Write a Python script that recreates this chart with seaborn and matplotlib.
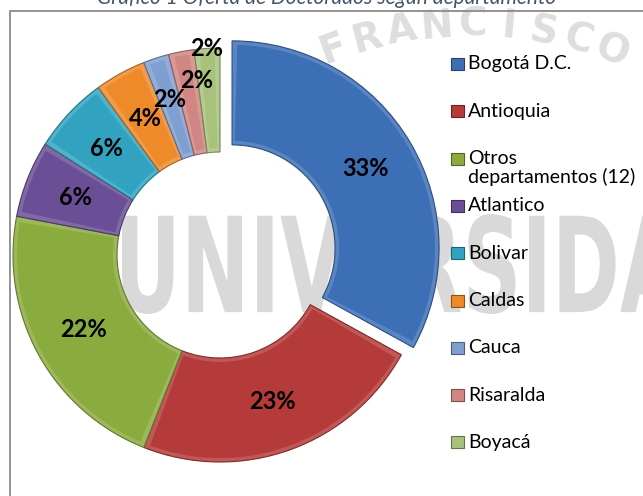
import matplotlib
matplotlib.use("Agg")
import matplotlib.pyplot as plt
import matplotlib.colors as mcolors
from matplotlib.patches import Wedge, Rectangle, PathPatch
from matplotlib.textpath import TextPath
from matplotlib.font_manager import FontProperties
from matplotlib.transforms import Affine2D
import numpy as np
import seaborn as sns

# Datos del gráfico (porcentaje de doctorados por departamento)
DEPARTAMENTOS = ["Bogotá D.C.", "Antioquia", "Otros\ndepartamentos (12)", "Atlantico",
                 "Bolivar", "Caldas", "Cauca", "Risaralda", "Boyacá"]
PORCENTAJES = [33, 23, 22, 6, 6, 4, 2, 2, 2]
COLORES = ["#3d6fb6", "#b43b39", "#8aac3e", "#6b4f96", "#31a3c1",
           "#ee8a2a", "#7f9fd1", "#d18684", "#a8c27c"]
TITULO = "Gráfico 1 Oferta de Doctorados según departamento"
MARCA_AGUA = "UNIVERSIDAD"
SELLO = "FRANCISCO"

# layout (pixel space, y up)
W, H = 643, 496
CENTRO = (220, H - 255)
RADIO = 207
ANCHO_ANILLO = 104
SEPARACION = [14, 0, 0, 0, 0, 0, 0, 0, 0]
DIST_ETIQUETA = [0.75, 0.75, 0.75, 0.75, 0.75, 0.75, 0.79, 0.85, 1.0]
GIRO_ETIQUETA = [0, 0, 0, 0, 0, 0, 0, -3.3, 0]

sns.set_theme(style="white")
plt.rcParams["font.family"] = ["Lato", "DejaVu Sans"]

palette = sns.color_palette(COLORES)


def shade(color, amount):
    """amount > 0 mezcla con blanco, < 0 con negro"""
    c = np.array(mcolors.to_rgb(color))
    if amount > 0:
        return tuple(c + (1 - c) * amount)
    return tuple(c * (1 + amount))


fig = plt.figure(figsize=(W / 100, H / 100), dpi=100)
fig.patch.set_facecolor("white")
ax = fig.add_axes([0, 0, 1, 1])

# marca de agua de fondo
fp = FontProperties(family="DejaVu Sans", weight="bold")
tp = TextPath((0, 0), MARCA_AGUA, size=100, prop=fp)
bb = tp.get_extents()
tr = Affine2D().translate(-bb.x0, -bb.y0).scale(625 / bb.width, 100 / bb.height).translate(122, H - 314)
ax.add_patch(PathPatch(tr.transform_path(tp), facecolor="#d9d9d9", edgecolor="none", zorder=0))

sc, sr = (470, H - 425), 400
for k, letra in enumerate(SELLO):
    ang = np.deg2rad(-20 + k * 5.1)
    x = sc[0] + sr * np.sin(ang)
    y = sc[1] + sr * np.cos(ang)
    ax.text(x, y, letra, fontsize=28, fontweight="bold", color="#dedede",
            rotation=-np.rad2deg(ang), ha="center", va="center",
            family="DejaVu Sans", zorder=0)

# borde del área del gráfico
ax.add_patch(Rectangle((10, -20), 700, H - 11 + 20, facecolor="none",
                       edgecolor="#8a8a8a", lw=1.3, zorder=1))

wedges, _, autotexts = ax.pie(
    PORCENTAJES, colors=[shade(c, 0.15) for c in palette], startangle=90,
    counterclock=False, radius=RADIO, center=CENTRO, explode=SEPARACION,
    autopct="%d%%", pctdistance=0.75,
    wedgeprops=dict(width=ANCHO_ANILLO, edgecolor=None, linewidth=0),
    textprops=dict(fontsize=17, fontweight="bold", color="black"),
)

# efecto bisel: cuña interior con el color base
d = 4
for w, c in zip(wedges, palette):
    w.set_zorder(2)
    w.set_edgecolor(shade(c, -0.3))
    w.set_linewidth(0.8)
    rm = w.r - w.width / 2
    da = np.rad2deg(d / rm)
    inner = Wedge(w.center, w.r - d, w.theta1 + da, w.theta2 - da, width=w.width - 2 * d,
                  facecolor=c, edgecolor="none", zorder=3)
    ax.add_patch(inner)

for t, w, k, g in zip(autotexts, wedges, DIST_ETIQUETA, GIRO_ETIQUETA):
    ang = np.deg2rad((w.theta1 + w.theta2) / 2 + g)
    t.set_position((w.center[0] + k * RADIO * np.cos(ang),
                    w.center[1] + k * RADIO * np.sin(ang)))
    t.set_zorder(5)

# leyenda
for i, (lab, c) in enumerate(zip(DEPARTAMENTOS, palette)):
    y = H - (64 + 47.3 * i)
    ax.add_patch(Rectangle((451, y - 6), 13, 12, facecolor=c,
                           edgecolor=shade(c, -0.4), lw=0.8, zorder=4))
    for j, linea in enumerate(lab.split("\n")):
        ax.text(468, y - 18 * j, linea, fontsize=14, color="black",
                ha="left", va="center", zorder=5)

ax.text(327, H - 4, TITULO, fontsize=15, fontstyle="italic", color="#44546a",
        ha="center", va="baseline")

ax.set_xlim(0, W)
ax.set_ylim(0, H)
ax.set_aspect("auto")
ax.axis("off")

fig.savefig("out.png", dpi=100)
